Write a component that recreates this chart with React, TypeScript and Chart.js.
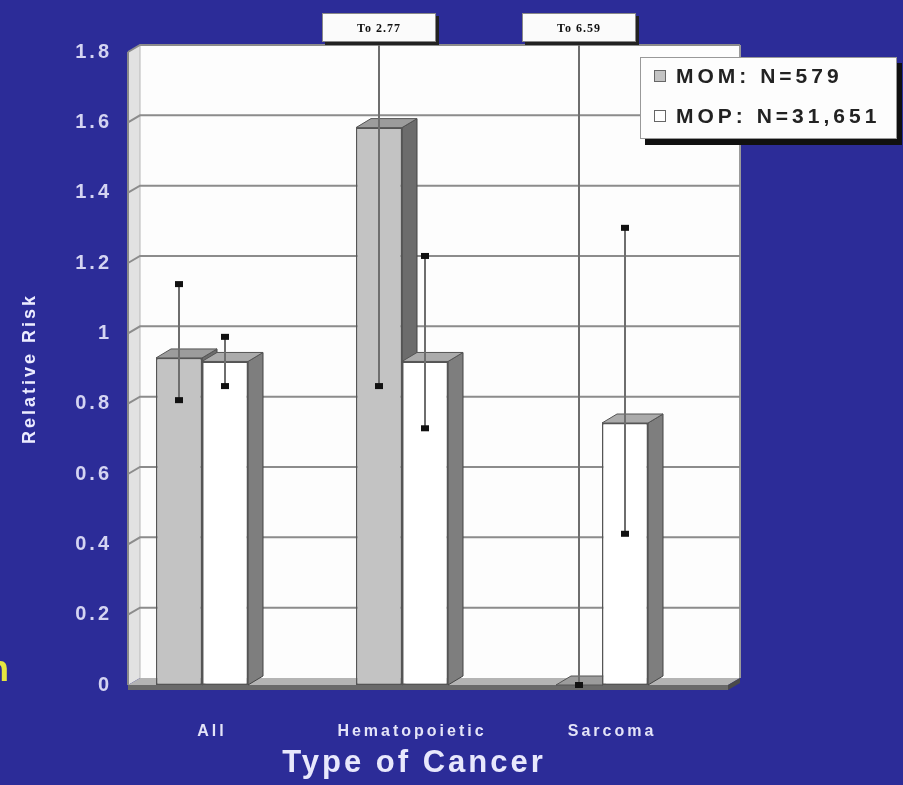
import React, { useEffect, useRef } from 'react';
import { Chart, registerables } from 'chart.js';

Chart.register(...registerables);

// ---------- data ----------
const categories = ['All', 'Hematopoietic', 'Sarcoma'];
const seriesLabels = ['MOM: N=579', 'MOP: N=31,651'];
const momValues = [0.93, 1.585, 0];
const mopValues = [0.92, 0.92, 0.745];
const momLow = [0.81, 0.85, 0];
const momHigh = [1.14, 2.77, 6.59];
const mopLow = [0.85, 0.73, 0.43];
const mopHigh = [0.99, 1.22, 1.3];
const yMin = 0;
const yMax = 1.8;
const yStep = 0.2;

// ---------- styles ----------
const BG = '#2c2c98';
const FONT = "'Liberation Sans', Arial, sans-serif";
const DX = 12; // wall depth
const DY = -7;
const BDX = 15; // bar depth
const BDY = -9;

const faceColors = [
  { front: '#c3c3c3', top: '#9c9c9c', side: '#6c6c6c' },
  { front: '#ffffff', top: '#ababab', side: '#7e7e7e' },
];

const lowArr = [momLow, mopLow];
const highArr = [momHigh, mopHigh];

function poly(ctx: CanvasRenderingContext2D, pts: number[][], fill: string, stroke?: string) {
  ctx.beginPath();
  ctx.moveTo(pts[0][0], pts[0][1]);
  for (let i = 1; i < pts.length; i++) ctx.lineTo(pts[i][0], pts[i][1]);
  ctx.closePath();
  ctx.fillStyle = fill;
  ctx.fill();
  if (stroke) {
    ctx.strokeStyle = stroke;
    ctx.lineWidth = 1;
    ctx.stroke();
  }
}

const wallPlugin = {
  id: 'wall3d',
  beforeDraw(chart: any) {
    const { ctx, chartArea, scales } = chart;
    const y = scales.y;
    ctx.save();
    ctx.fillStyle = BG;
    ctx.fillRect(0, 0, chart.width, chart.height);
    const L = chartArea.left;
    const B = y.getPixelForValue(yMin);
    const T = y.getPixelForValue(yMax);
    const BX = chartArea.right + 40;
    // back wall
    ctx.fillStyle = '#fdfdfd';
    ctx.fillRect(L + DX, T + DY, BX - (L + DX), B - T);
    ctx.strokeStyle = '#9a9a9a';
    ctx.lineWidth = 2;
    ctx.beginPath();
    ctx.moveTo(BX, T + DY);
    ctx.lineTo(BX, B + DY);
    ctx.stroke();
    // left wall
    poly(ctx, [[L, T], [L + DX, T + DY], [L + DX, B + DY], [L, B]], '#e2e2e2');
    ctx.strokeStyle = '#8a8a8a';
    ctx.lineWidth = 2;
    ctx.beginPath();
    ctx.moveTo(L, T);
    ctx.lineTo(L, B);
    ctx.stroke();
    ctx.strokeStyle = '#b8b8b8';
    ctx.lineWidth = 1;
    ctx.beginPath();
    ctx.moveTo(L + DX, T + DY);
    ctx.lineTo(L + DX, B + DY);
    ctx.stroke();
    // gridlines
    ctx.strokeStyle = '#8c8c8c';
    ctx.lineWidth = 2;
    y.ticks.forEach((t: any) => {
      if (t.value === yMin) return;
      const p = y.getPixelForValue(t.value);
      ctx.beginPath();
      ctx.moveTo(L, p);
      ctx.lineTo(L + DX, p + DY);
      ctx.lineTo(BX, p + DY);
      ctx.stroke();
    });
    // floor
    poly(ctx, [[L, B], [L + DX, B + DY], [BX, B + DY], [BX - DX, B]], '#b4b4b4');
    poly(ctx, [[L, B], [BX - DX, B], [BX - DX, B + 5], [L, B + 5]], '#6a6a6a');
    poly(ctx, [[BX - DX, B], [BX, B + DY], [BX, B + DY + 5], [BX - DX, B + 5]], '#4a4a4a');
    ctx.restore();
    // letter spacing for all library text
    ctx.letterSpacing = '3px';
  },
};

// side and top faces are drawn behind all front faces, in dataset order
const bar3dPlugin = {
  id: 'bar3d',
  beforeDatasetsDraw(chart: any) {
    const { ctx } = chart;
    ctx.save();
    ctx.letterSpacing = '0px';
    chart.data.datasets.forEach((_: any, di: number) => {
      const c = faceColors[di];
      chart.getDatasetMeta(di).data.forEach((el: any) => {
        const l = el.x - el.width / 2;
        const r = el.x + el.width / 2;
        const top = Math.min(el.y, el.base);
        const base = el.base;
        poly(ctx, [[r, top], [r + BDX, top + BDY], [r + BDX, base + BDY], [r, base]], c.side, '#444');
        poly(ctx, [[l, top], [l + BDX, top + BDY], [r + BDX, top + BDY], [r, top]], c.top, '#555');
      });
    });
    ctx.restore();
  },
};

const errorPlugin = {
  id: 'errorBars',
  afterDatasetsDraw(chart: any) {
    const { ctx, scales } = chart;
    const y = scales.y;
    ctx.save();
    ctx.letterSpacing = '0px';
    chart.data.datasets.forEach((_: any, di: number) => {
      const meta = chart.getDatasetMeta(di);
      meta.data.forEach((el: any, j: number) => {
        const lo = lowArr[di][j];
        const hi = highArr[di][j];
        const x = Math.round(el.x);
        const yl = y.getPixelForValue(lo);
        const over = hi > yMax;
        const yh = over ? 42 : y.getPixelForValue(hi);
        ctx.strokeStyle = '#6e6e6e';
        ctx.lineWidth = 2;
        ctx.beginPath();
        ctx.moveTo(x, yl);
        ctx.lineTo(x, yh);
        ctx.stroke();
        ctx.fillStyle = '#111';
        ctx.fillRect(x - 4, yl - 3, 8, 6);
        if (!over) {
          ctx.fillRect(x - 4, yh - 3, 8, 6);
        } else {
          const w = 114;
          const h = 29;
          const bx = x - w / 2;
          const by = 13;
          ctx.fillStyle = '#222';
          ctx.fillRect(bx + 3, by + 3, w, h);
          ctx.fillStyle = '#fbfbfb';
          ctx.fillRect(bx, by, w, h);
          ctx.strokeStyle = '#888';
          ctx.lineWidth = 1;
          ctx.strokeRect(bx + 0.5, by + 0.5, w - 1, h - 1);
          ctx.fillStyle = '#111';
          ctx.font = "bold 12px 'Liberation Serif', 'Times New Roman', serif";
          ctx.textAlign = 'center';
          ctx.textBaseline = 'middle';
          ctx.letterSpacing = '1px';
          ctx.fillText('To ' + hi.toFixed(2), x, by + h / 2 + 1);
          ctx.letterSpacing = '0px';
        }
      });
    });
    ctx.restore();
  },
};

const legendPlugin = {
  id: 'boxLegend',
  afterDraw(chart: any) {
    const { ctx } = chart;
    ctx.save();
    const bx = 640;
    const by = 57;
    const bw = 257;
    const bh = 82;
    ctx.fillStyle = '#111';
    ctx.fillRect(bx + 5, by + 6, bw, bh);
    ctx.fillStyle = '#fdfdfd';
    ctx.fillRect(bx, by, bw, bh);
    ctx.strokeStyle = '#999';
    ctx.lineWidth = 1;
    ctx.strokeRect(bx + 0.5, by + 0.5, bw - 1, bh - 1);
    ctx.font = `bold 21px ${FONT}`;
    ctx.textBaseline = 'middle';
    ctx.textAlign = 'left';
    ctx.letterSpacing = '4px';
    chart.data.datasets.forEach((ds: any, i: number) => {
      const cy = by + 19 + i * 40;
      ctx.fillStyle = faceColors[i].front;
      ctx.fillRect(bx + 14, cy - 6, 12, 12);
      ctx.strokeStyle = '#666';
      ctx.strokeRect(bx + 14.5, cy - 5.5, 11, 11);
      ctx.fillStyle = '#222';
      ctx.fillText(ds.label, bx + 36, cy + 1);
    });
    // stray slide text at the left edge
    ctx.letterSpacing = '0px';
    ctx.fillStyle = '#e6e640';
    ctx.font = `bold 36px ${FONT}`;
    ctx.textBaseline = 'alphabetic';
    ctx.fillText('n', -13, 681);
    ctx.restore();
  },
};

export default function App() {
  const ref = useRef<HTMLCanvasElement>(null);
  useEffect(() => {
    document.body.style.margin = '0';
    document.body.style.background = BG;
    const canvas = ref.current!;
    const chart = new Chart(canvas, {
      type: 'bar',
      data: {
        datasets: [
          {
            label: seriesLabels[0],
            data: momValues.map((v, i) => ({ x: i, y: v })),
            backgroundColor: faceColors[0].front,
            borderColor: '#555',
            borderWidth: 1.5,
            borderSkipped: false,
          },
          {
            label: seriesLabels[1],
            data: mopValues.map((v, i) => ({ x: i, y: v })),
            backgroundColor: faceColors[1].front,
            borderColor: '#555',
            borderWidth: 1.5,
            borderSkipped: false,
          },
        ],
      },
      options: {
        responsive: false,
        animation: false,
        devicePixelRatio: 1,
        categoryPercentage: 0.46,
        barPercentage: 1,
        layout: { padding: { top: 52, right: 203, left: 0, bottom: 0 } },
        plugins: { legend: { display: false }, tooltip: { enabled: false } },
        scales: {
          x: {
            type: 'linear',
            offset: false,
            min: -0.37,
            max: 2.49,
            grid: { display: false, offset: false },
            border: { display: false },
            afterBuildTicks: (s: any) => {
              s.ticks = categories.map((_, i) => ({ value: i }));
            },
            afterFit: (s: any) => {
              s.height = 100;
            },
            ticks: {
              autoSkip: false,
              maxRotation: 0,
              padding: 29,
              labelOffset: 10,
              color: '#e4e4f8',
              font: { family: FONT, size: 16, weight: 'bold' },
              callback: (v: any) => categories[v] ?? '',
            },
            title: {
              display: true,
              text: 'Type of Cancer',
              color: '#e8e8fc',
              font: { family: FONT, size: 31, weight: 'bold' },
              padding: { top: 0, bottom: 3 },
            },
          },
          y: {
            min: yMin,
            max: yMax,
            grid: { display: false },
            border: { display: false },
            afterFit: (s: any) => {
              s.width = 128;
            },
            ticks: {
              stepSize: yStep,
              padding: 8,
              color: '#d4d4f2',
              font: { family: FONT, size: 20, weight: 'bold' },
              callback: (v: any) => String(Math.round(Number(v) * 10) / 10),
            },
            title: {
              display: true,
              text: 'Relative Risk',
              color: '#ececff',
              font: { family: FONT, size: 18, weight: 'bold' },
              padding: { top: 19, bottom: 0 },
            },
          },
        },
      } as any,
      plugins: [wallPlugin, bar3dPlugin, errorPlugin, legendPlugin],
    });
    return () => chart.destroy();
  }, []);
  return (
    <div style={{ width: 903, height: 785, background: BG }}>
      <canvas ref={ref} width={903} height={785} style={{ display: 'block', width: 903, height: 785 }} />
    </div>
  );
}
